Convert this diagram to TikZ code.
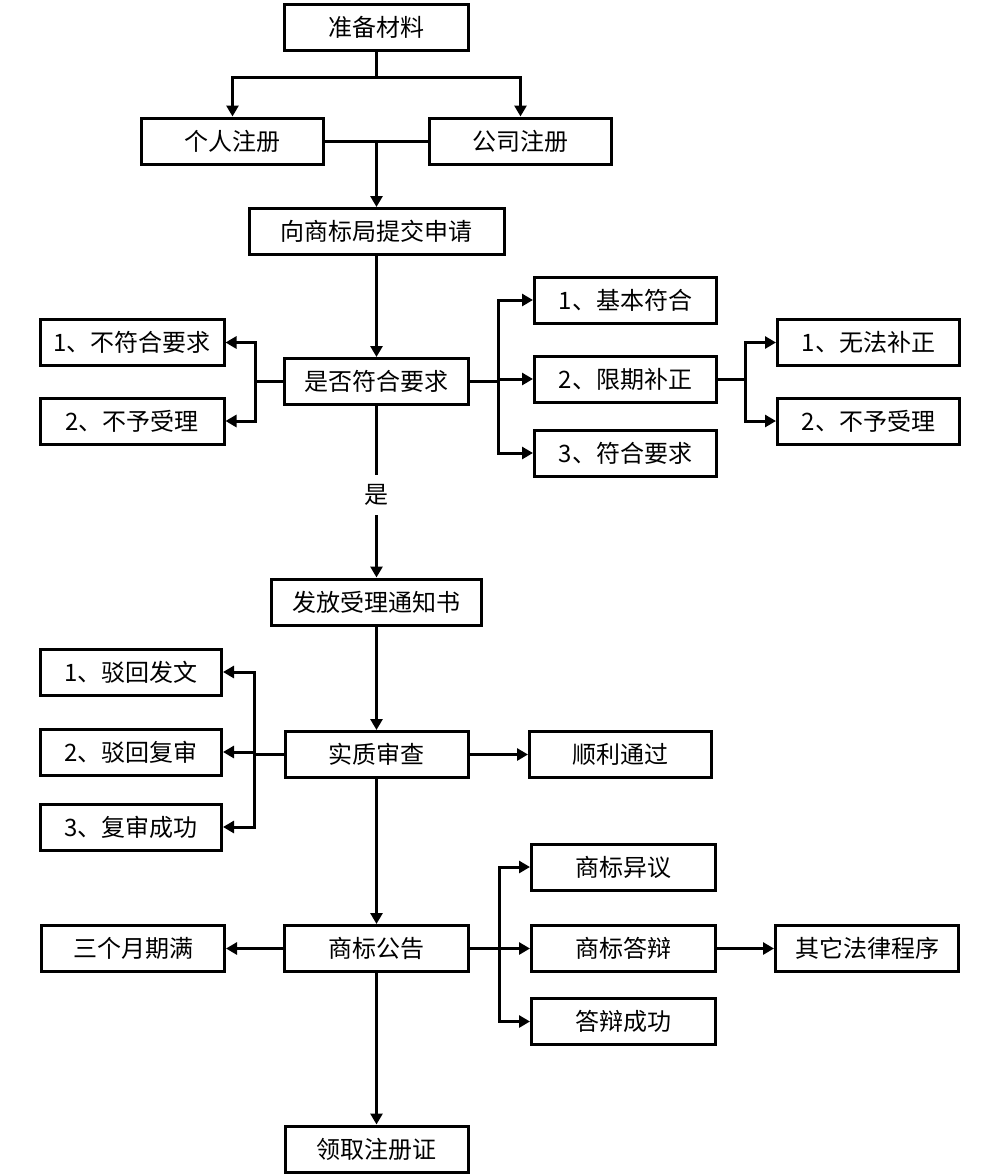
\documentclass[tikz,border=0pt]{standalone}
\usepackage{fontspec}
\newfontfamily\cjk{Noto Sans CJK SC}
\usetikzlibrary{arrows.meta}
\begin{document}
\begin{tikzpicture}[x=1pt,y=-1pt,
  box/.style={draw, line width=3pt, inner sep=0pt, minimum width=#1, minimum height=46pt,
    font=\cjk\fontsize{24}{24}\selectfont},
  box/.default=184pt,
  lbl/.style={inner sep=0pt, minimum height=40pt, font=\cjk\fontsize{24}{24}\selectfont},
  conn/.style={line width=3pt},
  arr/.style={line width=3pt, -{Triangle[length=11pt,width=12pt]}}]
\useasboundingbox (0,0) rectangle (1000,1176);
% nodes
\node[box] (prep) at (376.5,27) {准备材料};
\node[box=182pt] (personal) at (232.5,141) {个人注册};
\node[box=182pt] (company) at (520.5,141) {公司注册};
\node[box=255pt] (submit) at (376.5,231.5) {向商标局提交申请};
\node[box] (check) at (376.5,381.5) {是否符合要求};
\node[box] (no1) at (132,342.5) {1、不符合要求};
\node[box] (no2) at (132,421) {2、不予受理};
\node[box=182pt] (r1) at (625.5,300) {1、基本符合};
\node[box=182pt] (r2) at (625.5,379) {2、限期补正};
\node[box=182pt] (r3) at (625.5,453) {3、符合要求};
\node[box=182pt] (f1) at (868.5,342.5) {1、无法补正};
\node[box=182pt] (f2) at (868.5,421) {2、不予受理};
\node[lbl] (yes) at (376.5,495) {是};
\node[box=210pt] (notice) at (376.5,602) {发放受理通知书};
\node[box=181pt] (d1) at (131,672) {1、驳回发文};
\node[box=181pt] (d2) at (131,752) {2、驳回复审};
\node[box=181pt] (d3) at (131,827) {3、复审成功};
\node[box=183pt] (exam) at (376.5,754.5) {实质审查};
\node[box=182pt] (pass) at (620.5,754.5) {顺利通过};
\node[box] (pub) at (376.5,948.5) {商标公告};
\node[box=183pt] (m3) at (133,948.5) {三个月期满};
\node[box] (obj) at (623.5,867) {商标异议};
\node[box] (def) at (623.5,948.5) {商标答辩};
\node[box] (succ) at (623.5,1021.5) {答辩成功};
\node[box=183pt] (other) at (867,948.5) {其它法律程序};
\node[box=183pt] (cert) at (376.5,1149) {领取注册证};
% junction coordinates
\coordinate (j1) at (376.5,77);
\coordinate (j2) at (376.5,141);
\coordinate (lb) at (255,381.5);
\coordinate (rb) at (498,381.5);
\coordinate (fb) at (745,379);
\coordinate (eb) at (254,754.5);
\coordinate (pb) at (499,948.5);
% connectors
\draw[conn] (prep.south) -- (j1);
\draw[arr] (j1) -| (personal.north);
\draw[arr] (j1) -| (company.north);
\draw[conn] (personal.east) -- (company.west);
\draw[arr] (j2) -- (submit.north);
\draw[arr] (submit.south) -- (check.north);
\draw[conn] (check.west) -- (lb);
\draw[arr] (lb) |- (no1.east);
\draw[arr] (lb) |- (no2.east);
\draw[conn] (check.east) -- (rb);
\draw[arr] (rb) |- (r1.west);
\draw[arr] (rb) |- (r2.west);
\draw[arr] (rb) |- (r3.west);
\draw[conn] (r2.east) -- (fb);
\draw[arr] (fb) |- (f1.west);
\draw[arr] (fb) |- (f2.west);
\draw[conn] (check.south) -- (yes.north);
\draw[arr] (yes.south) -- (notice.north);
\draw[arr] (notice.south) -- (exam.north);
\draw[conn] (exam.west) -- (eb);
\draw[arr] (eb) |- (d1.east);
\draw[arr] (eb) |- (d2.east);
\draw[arr] (eb) |- (d3.east);
\draw[arr] (exam.east) -- (pass.west);
\draw[arr] (exam.south) -- (pub.north);
\draw[arr] (pub.west) -- (m3.east);
\draw[conn] (pub.east) -- (pb);
\draw[arr] (pb) |- (obj.west);
\draw[arr] (pb) |- (def.west);
\draw[arr] (pb) |- (succ.west);
\draw[arr] (def.east) -- (other.west);
\draw[arr] (pub.south) -- (cert.north);
\end{tikzpicture}
\end{document}
